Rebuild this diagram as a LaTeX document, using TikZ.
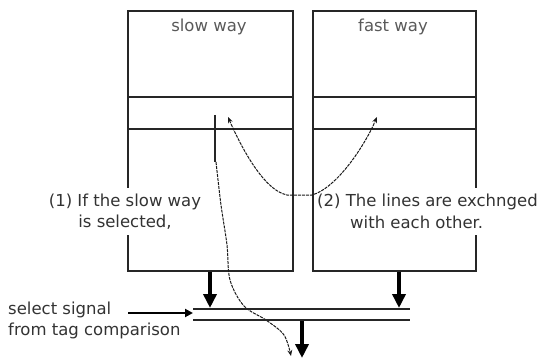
\documentclass[tikz,border=0pt]{standalone}
\usepackage{fontspec}
\setmainfont{DejaVu Sans}
\usetikzlibrary{arrows.meta}
\begin{document}
\begin{tikzpicture}[x=1pt,y=-1pt,
  waybox/.style={draw=black!85, line width=1.6pt, minimum width=165pt, minimum height=260pt, anchor=north west, inner sep=0pt},
  divider/.style={draw=black!85, line width=1.6pt},
  waylabel/.style={text=black!65, font=\fontsize{16.5}{20}\selectfont, inner sep=1pt},
  note/.style={text=black!80, font=\fontsize{16.5}{21.5}\selectfont, fill=white, inner xsep=2pt, inner ysep=6pt},
  bar/.style={draw=black!85, line width=2pt},
  bigarrow/.style={draw=black, line width=3.5pt, -{Triangle[length=14pt,width=13pt]}},
  selarrow/.style={draw=black, line width=2pt, -{Triangle[length=8pt,width=8pt]}},
  moveline/.style={draw=black!90, line width=1pt, dash pattern=on 3pt off 1pt},
  movetip/.tip={Stealth[length=6pt,width=5pt]}
]
\useasboundingbox (0,0) rectangle (559,358);

% the two ways
\node[waybox, minimum width=165pt] (slow) at (127,10) {};
\node[waybox, minimum width=163pt] (fast) at (312,10) {};
\draw[divider] (127,97) -- (292,97);
\draw[divider] (127,129) -- (292,129);
\draw[divider] (312,97) -- (475,97);
\draw[divider] (312,129) -- (475,129);
\node[waylabel] (slowlbl) at (209,27) {slow way};
\node[waylabel] (fastlbl) at (393,27) {fast way};

% notes
\node[note, align=center] (n1) at (125,211.5) {(1) If the slow way\\is selected,};
\node[note, align=left, anchor=west] (n2) at (315,211.5) {(2) The lines are exchnged\\\hspace*{33pt}with each other.};

% exchange arrows
\coordinate (ex1) at (228,117);
\coordinate (ex2) at (287,195);
\coordinate (ex3) at (312,195);
\coordinate (ex4) at (377,117);
\draw[moveline, movetip-movetip] (ex1) .. controls (238,140) and (262,190) .. (ex2) -- (ex3) .. controls (337,188) and (365,145) .. (ex4);

% selected line leaving the slow way
\coordinate (sl1) at (215,115);
\coordinate (sl2) at (215,162);
\draw[draw=black!85, line width=1.6pt] (sl1) -- (sl2);
\draw[moveline, -movetip] plot[smooth, tension=0.55] coordinates {(216,162) (221,205) (227,245) (230,280) (244,306) (266,320) (284,335) (291,356)};

% multiplexer
\coordinate (mt1) at (193,309);
\coordinate (mt2) at (410,309);
\coordinate (mb1) at (193,320);
\coordinate (mb2) at (410,320);
\draw[bar] (mt1) -- (mt2);
\draw[bar] (mb1) -- (mb2);

\coordinate (a1) at (210,308);
\coordinate (a2) at (399,308);
\coordinate (o1) at (302,321);
\coordinate (o2) at (302,358);
\draw[bigarrow] (slow.south -| a1) -- (a1);
\draw[bigarrow] (fast.south -| a2) -- (a2);
\draw[bigarrow] (o1) -- (o2);

% select signal
\node[note, align=left, anchor=west, inner ysep=1pt] (sel) at (6,320.5) {select signal\\from tag comparison};
\coordinate (s1) at (128,313);
\coordinate (s2) at (193,313);
\draw[selarrow] (s1) -- (s2);
\end{tikzpicture}
\end{document}
